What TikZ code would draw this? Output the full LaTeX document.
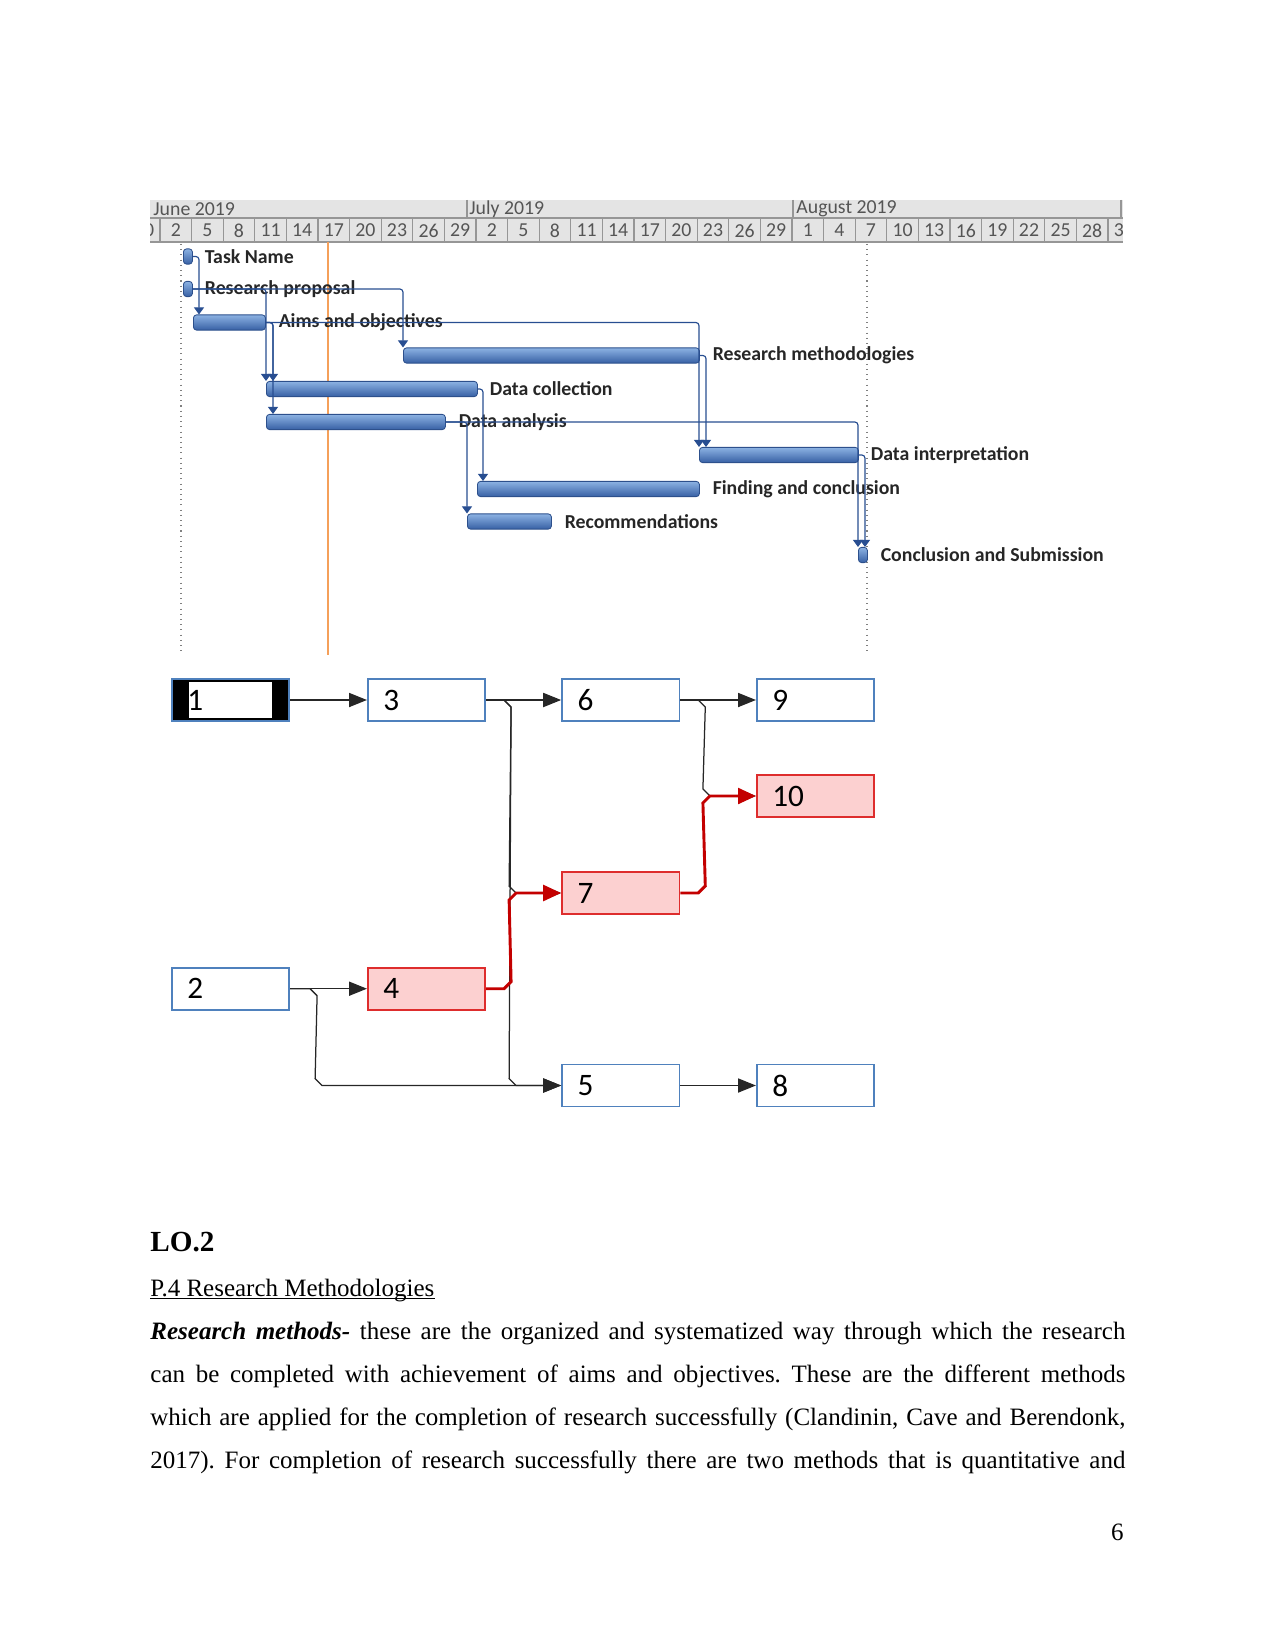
\documentclass[tikz,border=0pt]{standalone}
\usepackage{fontspec}
\setmainfont{Liberation Serif}
\newfontfamily\calibri{Carlito}
\usetikzlibrary{arrows.meta,positioning,calc}
\frenchspacing

\definecolor{hdrfill}{RGB}{228,228,228}
\definecolor{hdrline}{RGB}{150,150,150}
\definecolor{hdrtext}{RGB}{85,85,85}
\definecolor{barlight}{RGB}{140,178,226}
\definecolor{bardark}{RGB}{55,96,165}
\definecolor{barline}{RGB}{45,80,140}
\definecolor{depline}{RGB}{40,78,145}
\definecolor{todayline}{RGB}{245,160,90}
\definecolor{boxblue}{RGB}{79,129,189}
\definecolor{critfill}{RGB}{252,208,208}
\definecolor{critline}{RGB}{222,45,45}
\definecolor{critpath}{RGB}{195,0,0}

\begin{document}
\begin{tikzpicture}[x=0.48pt, y=-0.48pt,
  hdr/.style={inner sep=0pt, text=hdrtext, font=\calibri\fontsize{9.5}{11}\selectfont},
  bar/.style={rectangle, rounded corners=1.5pt, draw=barline, line width=0.4pt, top color=barlight, bottom color=bardark, inner sep=0pt, minimum height=7.3pt, minimum width=#1*0.48pt, anchor=west},
  mile/.style={bar=9},
  tlabel/.style={inner sep=0pt, text=black!85, font=\calibri\bfseries\fontsize{9.5}{11}\selectfont},
  dep/.style={draw=depline, line width=0.55pt, rounded corners=1.5pt, -{Triangle[length=3.4pt,width=4.8pt]}},
  task/.style={draw=boxblue, line width=0.8pt, fill=white, inner xsep=7.5pt, inner ysep=0pt, text width=41.4pt, minimum height=20.2pt, align=left, font=\calibri\fontsize{15}{17}\selectfont},
  crit/.style={task, draw=critline, fill=critfill},
  startbox/.style={task, fill=black, path picture={\fill[white] ([shift={(17,3.5)}]path picture bounding box.north west) rectangle ([shift={(-17,-3.5)}]path picture bounding box.south east);}},
  link/.style={draw=black!85, line width=0.6pt, -{Triangle[length=8.6pt,width=6.8pt]}},
  critlink/.style={draw=critpath, line width=1.4pt, -{Triangle[length=8.6pt,width=7.6pt]}},
  body/.style={anchor=base west, inner sep=0pt, font=\fontsize{12}{14}\selectfont}]
  \useasboundingbox (0,0) rectangle (1275,1651);

  \fill[hdrfill] (150,200) rectangle (1123,242);
  \draw[hdrline, line width=0.5pt] (150,218) -- (1123,218) (150,242) -- (1123,242)
    (467,200) -- (467,218) (793,200) -- (793,218) (1121,200) -- (1121,218);
  \foreach \k in {0,...,30}
    \draw[hdrline, line width=0.5pt] ({160+31.6*\k},218) -- ({160+31.6*\k},242);
  \begin{scope}
    \clip (150,218) rectangle (1123,242);
    \foreach \d [count=\k from -1] in {30,2,5,8,11,14,17,20,23,26,29,2,5,8,11,14,17,20,23,26,29,1,4,7,10,13,16,19,22,25,28,31}
      \node[hdr] (day\k) at ({175.8+31.6*\k},230.5) {\d};
  \end{scope}
  \node[hdr, anchor=west] (mjune) at (153,209) {June 2019};
  \node[hdr, anchor=west] (mjuly) at (469,209) {July 2019};
  \node[hdr, anchor=west] (maug) at (796,209) {August 2019};

  \draw[gray, dotted, line width=0.5pt] (181,244) -- (181,653);
  \draw[gray, dotted, line width=0.5pt] (867,244) -- (867,653);
  \draw[todayline, line width=0.8pt] (328,242) -- (328,655);

  \node[mile] (tn) at (183,256.5) {};
  \node[mile] (rp) at (183,289) {};
  \node[bar=72] (aims) at (193,322.5) {};
  \node[bar=296] (rm) at (403,355.5) {};
  \node[bar=211] (dc) at (266,389) {};
  \node[bar=179] (da) at (266,422) {};
  \node[bar=159] (di) at (699,455) {};
  \node[bar=222] (fc) at (477,489) {};
  \node[bar=84] (rec) at (467,521.5) {};
  \node[mile] (cs) at (858,555) {};

  \node[tlabel, right=5.6pt of tn] (tnl) {Task Name};
  \node[tlabel, right=5.6pt of rp] (rpl) {Research proposal};
  \node[tlabel, right=6pt of aims] (aimsl) {Aims and objectives};
  \node[tlabel, right=6pt of rm] (rml) {Research methodologies};
  \node[tlabel, right=5.6pt of dc] (dcl) {Data collection};
  \node[tlabel, right=6pt of da] (dal) {Data analysis};
  \node[tlabel, right=5.6pt of di] (dil) {Data interpretation};
  \node[tlabel, right=6pt of fc] (fcl) {Finding and conclusion};
  \node[tlabel, right=6pt of rec] (recl) {Recommendations};
  \node[tlabel, right=6pt of cs] (csl) {Conclusion and Submission};

  \draw[dep] (tn.east) -| ($(aims.north west)+(6,0)$);
  \draw[dep] (rp.east) -| (dc.north west);
  \draw[dep] (rp.east) -| (rm.north west);
  \draw[dep] (aims.east) -| ($(dc.north west)+(7,0)$);
  \draw[dep] (aims.east) -| ($(da.north west)+(7,0)$);
  \draw[dep] (aims.east) -| (di.north west);
  \draw[dep] (rm.east) -| ($(di.north west)+(7,0)$);
  \draw[dep] (dc.east) -| ($(fc.north west)+(6,0)$);
  \draw[dep] (da.east) -| (rec.north west);
  \draw[dep] (da.east) -| (cs.north west);
  \draw[dep] (di.east) -| ($(cs.north west)+(7,0)$);

  \node[startbox] (n1) at (230.5,700) {1};
  \node[task] (n3) at (426.5,700) {3};
  \node[task] (n6) at (620.7,700) {6};
  \node[task] (n9) at (815.5,700) {9};
  \node[crit] (n10) at (815.5,796) {10};
  \node[crit] (n7) at (620.7,893) {7};
  \node[task] (n2) at (230.5,988.7) {2};
  \node[crit] (n4) at (426.5,988.7) {4};
  \node[task] (n5) at (620.7,1085.5) {5};
  \node[task] (n8) at (815.5,1085.5) {8};

  \draw[link] (n1.east) -- (n3.west);
  \draw[link] (n3.east) -- (n6.west);
  \draw[link] (n6.east) -- (n9.west);
  \draw[link] (n2.east) -- (n4.west);
  \draw[link] (n5.east) -- (n8.west);
  \draw[link] (n3.east) -- ++(18,0) -- ++(7,7) -- ($(n5.west)+(-52,-7)$) -- ++(7,7) -- (n5.west);
  \draw[link] (n3.east) -- ++(18,0) -- ++(7,7) -- ($(n7.west)+(-52,-7)$) -- ++(7,7) -- (n7.west);
  \draw[link] (n2.east) -- ++(20,0) -- ++(7,7) -- ($(n5.west)+(-246,-7)$) -- ++(7,7) -- (n5.west);
  \draw[link] (n6.east) -- ++(18,0) -- ++(7,7) -- ($(n10.west)+(-53,-7)$) -- ++(7,7) -- (n10.west);
  \draw[critlink] (n4.east) -- ++(18,0) -- ++(7,-7) -- ($(n7.west)+(-52,7)$) -- ++(7,-7) -- (n7.west);
  \draw[critlink] (n7.east) -- ++(18,0) -- ++(7,-7) -- ($(n10.west)+(-53,7)$) -- ++(7,-7) -- (n10.west);

  \node[body, font=\bfseries\fontsize{14}{16}\selectfont] (lo) at (150,1251) {LO.2};
  \node[body] (ptitle) at (150,1296) {P.4 Research Methodologies};
  \draw[line width=0.6pt] ([yshift=-1.3pt]ptitle.base west) -- ([yshift=-1.3pt]ptitle.base east);
  \node[body] (line1) at (150,1339) {\hbox to 468pt{\textbf{\textit{Research methods-}} these are the organized and systematized way through which the research}};
  \node[body] (line2) at (150,1382) {\hbox to 468pt{can be completed with achievement of aims and objectives. These are the different methods}};
  \node[body] (line3) at (150,1425) {\hbox to 468pt{which are applied for the completion of research successfully (Clandinin, Cave and Berendonk,}};
  \node[body] (line4) at (150,1468) {\hbox to 468pt{2017). For completion of research successfully there are two methods that is quantitative and}};
  \node[body, anchor=base east] (pnum) at (1124,1540) {6};
\end{tikzpicture}
\end{document}
